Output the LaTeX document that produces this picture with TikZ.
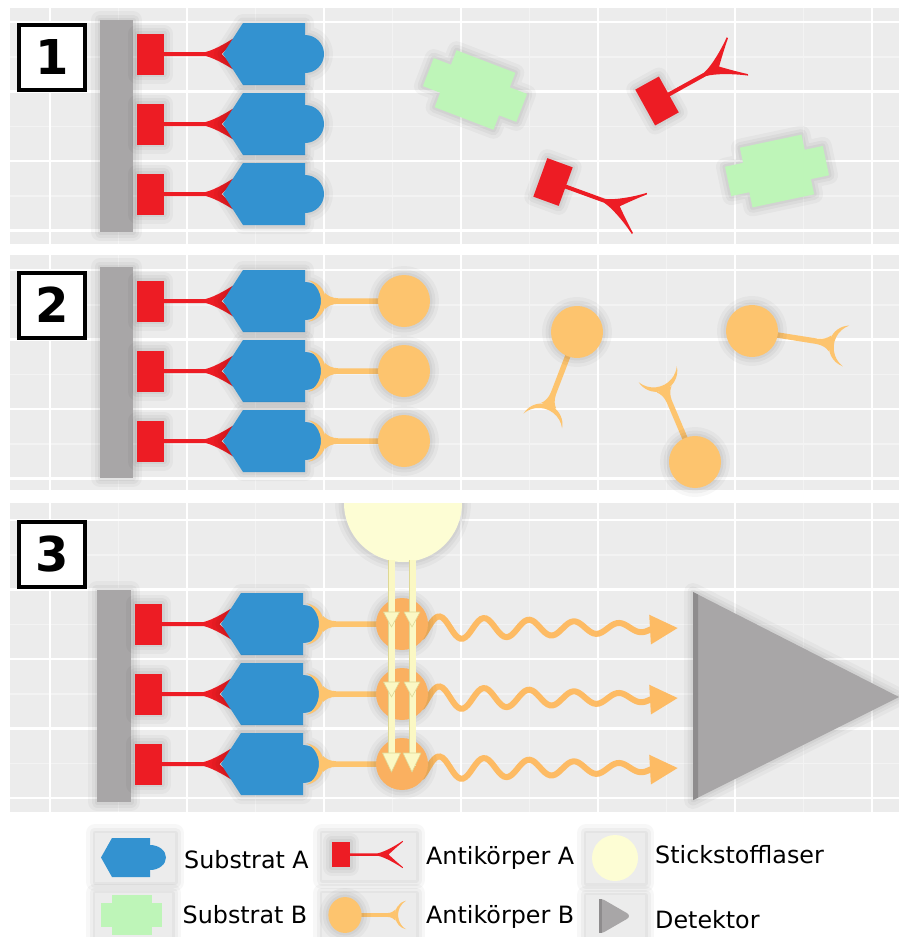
\documentclass[tikz,border=0pt]{standalone}
\usepackage{fontspec}
\setmainfont{DejaVu Sans}
\usetikzlibrary{arrows.meta}

\definecolor{panel}{RGB}{236,236,236}
\definecolor{minorline}{RGB}{243,243,243}
\definecolor{plate}{RGB}{168,166,167}
\definecolor{plateedge}{RGB}{142,140,141}
\definecolor{subA}{RGB}{51,146,208}
\definecolor{subB}{RGB}{190,245,184}
\definecolor{abA}{RGB}{237,28,36}
\definecolor{abB}{RGB}{253,196,110}
\definecolor{bulbhot}{RGB}{250,176,96}
\definecolor{laser}{RGB}{253,253,212}
\definecolor{beam}{RGB}{251,248,196}
\definecolor{beamedge}{RGB}{222,216,150}
\definecolor{glow}{RGB}{253,187,100}
\colorlet{bulb}{abB}

% one step of the assay: panel, grid lines, clipped to the panel
\newcommand{\panelbg}[3]{%
  \begin{scope}
    \clip (10,#1) rectangle (899,#2);
    \fill[panel] (10,#1) rectangle (899,#2);
    \foreach \g in {0,...,6} {
      \draw[minorgrid] (118.5+137*\g,#1) -- (118.5+137*\g,#2);
      \draw[minorgrid] (10,#3-34.75+69.5*\g) -- (899,#3-34.75+69.5*\g);
    }
    \foreach \g in {0,...,6} {
      \draw[majorgrid] (50+137*\g,#1) -- (50+137*\g,#2);
      \draw[majorgrid] (10,#3+69.5*\g) -- (899,#3+69.5*\g);
    }
  \end{scope}}

\tikzset{
  majorgrid/.style={white,line width=2.5pt},
  minorgrid/.style={minorline,line width=1.5pt},
  % soft shadow from a few wide transparent strokes
  soft/.style={
    preaction={draw=black,draw opacity=.03,line width=18pt,line join=round},
    preaction={draw=black,draw opacity=.035,line width=11pt,line join=round},
    preaction={draw=black,draw opacity=.04,line width=5pt,line join=round}},
  numbox/.style={draw=black,line width=4pt,fill=white,inner sep=0pt,
      minimum width=66pt,minimum height=65pt,
      font=\fontsize{48}{48}\selectfont\bfseries},
  legtext/.style={anchor=base west,inner sep=0pt,
      font=\fontsize{23.8}{26}\selectfont},
  legbox/.style={fill=panel,soft},
  wave/.style={glow,line width=6pt,line cap=round,
      -{Triangle[length=28pt,width=28pt]}},
  beamtip/.style={fill=beam,draw=beamedge,line width=0.6pt,line join=round},
  % substrate A, origin in the centre of the round end
  subsA/.pic={
    \fill[subA,soft] (-82,0) -- (-62,-31) -- (0,-31) -- (0,-19)
      arc[start angle=-90,end angle=90,radius=19] -- (0,31) -- (-62,31) -- cycle;
  },
  % substrate B, a fat cross
  subsB/.pic={
    \fill[subB,soft] (-50,-15) -- (-31.5,-15) -- (-31.5,-30.5) -- (31.5,-30.5)
      -- (31.5,-15) -- (50,-15) -- (50,15) -- (31.5,15) -- (31.5,30.5)
      -- (-31.5,30.5) -- (-31.5,15) -- (-50,15) -- cycle;
  },
  % antibody A, origin in the centre of the foot
  antiA/.pic={
    \fill[abA,soft] (-13.5,-20.5) rectangle (13.5,20.5);
    \fill[abA] (13,-2) -- (55,-2) .. controls (64,-4) and (80,-13) .. (92,-22)
      -- (92.5,-20.5) .. controls (84,-13) and (76,-5) .. (71,0)
      .. controls (76,5) and (84,13) .. (92.5,20.5) -- (92,22)
      .. controls (80,13) and (64,4) .. (55,2) -- (13,2) -- cycle;
  },
  % antibody B, origin in the centre of the bulb, fork towards -x
  antiB/.pic={
    \fill[abB] (-20,-2.75) -- (-66,-2.75) .. controls (-72,-3) and (-76,-5) .. (-79,-8)
      -- (-79,8) .. controls (-76,5) and (-72,3) .. (-66,2.75) -- (-20,2.75) -- cycle;
    \fill[abB] (-95.4,-20.7) arc[start angle=-80,end angle=80,radius=21]
      arc[start angle=61.8,end angle=-61.8,radius=23.5] -- cycle;
    \fill[bulb,soft] (0,0) circle[radius=26];
  }
}

\begin{document}
\begin{tikzpicture}[x=1pt,y=-1pt]
  \useasboundingbox (0,0) rectangle (899,937);
  \fill[white] (0,0) rectangle (899,937);

  % step 1
  \panelbg{8}{244}{22}
  \node[numbox] (step1) at (52,57.5) {1};
  \fill[plate,soft] (100,20) rectangle (133,232);
  \foreach \r in {54,124,194} {
    \pic at (150.5,\r) {antiA};
    \pic at (305,\r) {subsA};
  }
  \pic[rotate=-21] at (475,90) {subsB};
  \pic[rotate=12] at (777,171) {subsB};
  \pic[rotate=29] at (657,101) {antiA};
  \pic[rotate=-20] at (553,182) {antiA};

  % step 2
  \panelbg{255}{490}{270}
  \node[numbox] (step2) at (52,305) {2};
  \fill[plate,soft] (100,267) rectangle (133,478);
  \foreach \r in {301,371,441} {
    \pic at (150.5,\r) {antiA};
    \pic at (305,\r) {subsA};
    \pic at (404,\r) {antiB};
  }
  \pic[rotate=69] at (577,332) {antiB};
  \pic[rotate=171] at (752,331) {antiB};
  \pic[rotate=-67] at (695,462) {antiB};

  % step 3
  \panelbg{503}{812}{520}
  \node[numbox] (step3) at (52,554.5) {3};
  \begin{scope}
    \clip (10,503) rectangle (899,812);
    \fill[laser,soft] (344,503) arc[start angle=180,end angle=0,radius=59] -- cycle;
  \end{scope}
  \fill[plate,soft] (97,590) rectangle (131,802);
  \begin{scope}
    \colorlet{bulb}{bulbhot}
    \foreach \r in {624,694,764} {
      \pic at (148.5,\r) {antiA};
      \pic at (303,\r) {subsA};
      \draw[wave] plot[domain=-6:222,samples=90,smooth,variable=\t]
        ({428+\t},{\r+4-12*(1-\t/330)*sin(8*\t)}) -- (678,\r+4);
      \pic at (402,\r) {antiB};
    }
  \end{scope}
  % laser beams
  \foreach \bx in {391.5,412} {
    \fill[beam] (\bx-3.5,560) rectangle (\bx+3.5,766);
    \fill[beamedge] (\bx-3.5,560) rectangle (\bx-2.2,766);
    \foreach \r in {624,694}
      \filldraw[beamtip] (\bx-8,\r-12) -- (\bx+8,\r-12) -- (\bx,\r+3) -- cycle;
    \filldraw[beamtip] (\bx-9,753) -- (\bx+9,753) -- (\bx,772) -- cycle;
  }
  % detector
  \fill[plate,soft] (693,592) -- (899,697) -- (693,800) -- cycle;
  \fill[plateedge] (693,592) -- (698,594.5) -- (698,797.5) -- (693,800) -- cycle;

  % legend
  \fill[legbox] (95,833) rectangle (175,882);
  \fill[subA] (101,857.5) -- (112,838) -- (150,838) -- (150,845)
    arc[start angle=-90,end angle=90,x radius=16,y radius=12.5] -- (150,877)
    -- (112,877) -- cycle;
  \node[legtext] (legSA) at (184,868) {Substrat A};

  \fill[legbox] (322,833) rectangle (416,880);
  \pic[xscale=0.67,yscale=0.62] at (341,854.5) {antiA};
  \node[legtext] (legAA) at (426,864) {Antikörper A};

  \fill[legbox] (586,833) rectangle (645,883);
  \fill[laser] (615,858) circle[radius=23];
  \node[legtext] (legL) at (655,863) {Stickstofflaser};

  \fill[legbox] (95,893) rectangle (172,937);
  \fill[subB] (112,895) rectangle (152,935);
  \fill[subB] (101,903) rectangle (162,927);
  \node[legtext] (legSB) at (182.5,923) {Substrat B};

  \fill[legbox] (322,893) rectangle (416,937);
  \pic[xscale=-0.64,yscale=0.69] at (345,915) {antiB};
  \node[legtext] (legAB) at (426,923) {Antikörper B};

  \fill[legbox] (586,895) rectangle (645,937);
  \fill[plate,rounded corners=6pt] (599,897) -- (632,916) -- (599,935) -- cycle;
  \fill[plateedge] (599,899) rectangle (602,933);
  \node[legtext] (legD) at (655,928) {Detektor};
\end{tikzpicture}
\end{document}
